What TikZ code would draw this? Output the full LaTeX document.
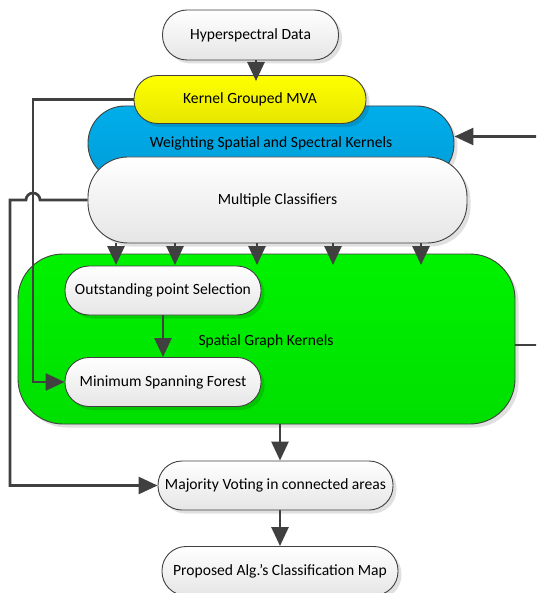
\documentclass[tikz,border=0pt]{standalone}
\usepackage{fontspec}
\setmainfont{Carlito}
\usetikzlibrary{arrows.meta,shadows}
\definecolor{linec}{HTML}{404040}
\definecolor{yelT}{HTML}{FFFF00}
\definecolor{yelB}{HTML}{E6E600}
\definecolor{bluT}{HTML}{00AEEA}
\definecolor{bluB}{HTML}{009DD8}
\definecolor{grnT}{HTML}{00F200}
\definecolor{grnB}{HTML}{00DF00}
\begin{document}
\begin{tikzpicture}[x=1pt,y=-1pt,
  box/.style={draw=linec, line width=0.9pt, inner sep=0pt,
    font=\fontsize{15.6}{18}\selectfont,
    drop shadow={shadow xshift=3.5pt, shadow yshift=-3.5pt, fill=black, opacity=0.12}},
  wbox/.style={box, top color=white, bottom color=gray!20},
  conn/.style={draw=linec, line width=2.7pt},
  arr/.style={conn, -{Triangle[length=19pt,width=17pt]}}]
\clip (0,0) rectangle (536,593);
% nodes
\node[wbox, minimum width=176pt, minimum height=50pt, rounded corners=24.5pt] (hsd) at (250.5,35) {Hyperspectral Data};
\node[box, top color=bluT, bottom color=bluB, minimum width=366pt, minimum height=75pt, rounded corners=37pt] (wsk) at (271,143.5) {Weighting Spatial and Spectral Kernels};
\node[box, top color=yelT, bottom color=yelB, minimum width=232pt, minimum height=48pt, rounded corners=23.5pt] (kgm) at (250,99.5) {Kernel Grouped MVA};
\node[wbox, minimum width=379pt, minimum height=86pt, rounded corners=40pt] (mc) at (277.5,200) {Multiple Classifiers};
\node[box, top color=grnT, bottom color=grnB, minimum width=497pt, minimum height=170pt, rounded corners=45pt] (sgk) at (266.5,339) {};
\node[font=\fontsize{15.6}{18}\selectfont, inner sep=0pt] (sgkt) at (266,341.3) {Spatial Graph Kernels};
\node[wbox, minimum width=196pt, minimum height=49pt, rounded corners=24pt] (ops) at (163,290.5) {Outstanding point Selection};
\node[wbox, minimum width=196pt, minimum height=49pt, rounded corners=24pt] (msf) at (163,382) {Minimum Spanning Forest};
\node[wbox, minimum width=235pt, minimum height=49pt, rounded corners=24pt] (mv) at (275.5,485.5) {Majority Voting in connected areas};
\node[wbox, minimum width=236pt, minimum height=49pt, rounded corners=24pt] (pam) at (280,571) {Proposed Alg.’s Classification Map};
% helper coordinates
\coordinate (a1) at (256,81);
\coordinate (l1) at (33,0);
\coordinate (l1r) at (40,0);
\coordinate (l2) at (10,0);
\coordinate (r1) at (541,0);
\coordinate (c1) at (280,0);
\coordinate (t1) at (116,265);
\coordinate (t2) at (175,265);
\coordinate (t3) at (257,265);
\coordinate (t4) at (333,265);
\coordinate (t5) at (421,265);
\coordinate (wskin) at ([yshift=7pt]wsk.east);
\coordinate (sgkout) at ([yshift=-6pt]sgk.east);
% connectors
\draw[arr] (hsd.south -| a1) -- (a1);
\foreach \t in {t1,t2,t3,t4,t5} \draw[arr] (mc.south -| \t) -- (\t);
\draw[arr] (ops.south) -- (msf.north);
\draw[arr] (sgk.south -| c1) -- (mv.north -| c1);
\draw[arr] (mv.south -| c1) -- (pam.north -| c1);
\draw[arr] (kgm.west) -- (kgm.west -| l1) -- (msf.west -| l1) -- (msf.west);
\draw[arr] (mc.west) -- (mc.west -| l1r) arc[start angle=0, end angle=180, radius=7pt] -- (mc.west -| l2) -- (mv.west -| l2) -- (mv.west);
\draw[arr] (sgkout) -- (sgkout -| r1) -- (r1 |- wskin) -- (wskin);
\end{tikzpicture}
\end{document}
